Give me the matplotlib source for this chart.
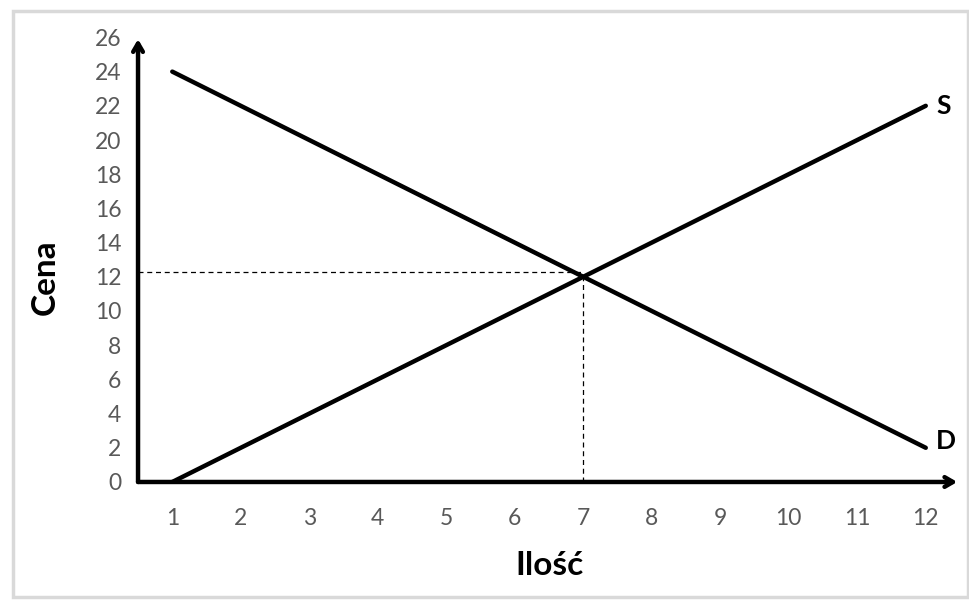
import matplotlib
matplotlib.use('Agg')
import matplotlib.pyplot as plt
from matplotlib.patches import Rectangle

# data
quantity = [1, 2, 3, 4, 5, 6, 7, 8, 9, 10, 11, 12]
demand = [24, 22, 20, 18, 16, 14, 12, 10, 8, 6, 4, 2]
supply = [0, 2, 4, 6, 8, 10, 12, 14, 16, 18, 20, 22]
eq_q = 7
eq_price_line = 12.3
yticks = list(range(0, 27, 2))

plt.rcParams['font.family'] = ['Lato', 'DejaVu Sans']

fig = plt.figure(figsize=(9.7, 6.03), dpi=100)
ax = fig.add_axes([0.1423, 0.2007, 0.8474, 0.7656])

ax.plot(quantity, demand, color='black', lw=3.2, solid_capstyle='round')
ax.plot(quantity, supply, color='black', lw=3.2, solid_capstyle='round')

# dashed equilibrium guides
ax.plot([0.5, eq_q], [eq_price_line, eq_price_line], color='black', lw=0.9, ls=(0, (4, 3)))
ax.plot([eq_q, eq_q], [0, 12], color='black', lw=0.9, ls=(0, (4, 3)))

# axes with arrows
ax.annotate('', xy=(12.46, 0), xytext=(0.5, 0),
            arrowprops=dict(arrowstyle='->,head_length=0.6,head_width=0.35', lw=3.2, color='black',
                            shrinkA=0, shrinkB=0))
ax.annotate('', xy=(0.5, 25.9), xytext=(0.5, 0),
            arrowprops=dict(arrowstyle='->,head_length=0.6,head_width=0.35', lw=3.2, color='black',
                            shrinkA=0, shrinkB=0))

ax.text(12.15, 22, 'S', fontsize=19, fontweight='bold', va='center', ha='left')
ax.text(12.15, 2.4, 'D', fontsize=19, fontweight='bold', va='center', ha='left')

ax.set_xlim(0.5, 12.5)
ax.set_ylim(0, 27)
ax.set_xticks(quantity)
ax.set_yticks(yticks)
ax.tick_params(length=0, labelsize=16.5, colors='#595959')
ax.tick_params(axis='x', pad=19)
ax.tick_params(axis='y', pad=12)
for s in ax.spines.values():
    s.set_visible(False)

fig.text(0.566, 0.062, 'Ilość', fontsize=24, fontweight='bold', ha='center', va='center')
fig.text(0.047, 0.54, 'Cena', fontsize=24, fontweight='bold', ha='center', va='center', rotation=90)

fig.patches.append(Rectangle((0.013, 0.01), 0.985, 0.972, transform=fig.transFigure,
                             fill=False, edgecolor='#d9d9d9', lw=2.5))

fig.savefig('out.png', dpi=100)
